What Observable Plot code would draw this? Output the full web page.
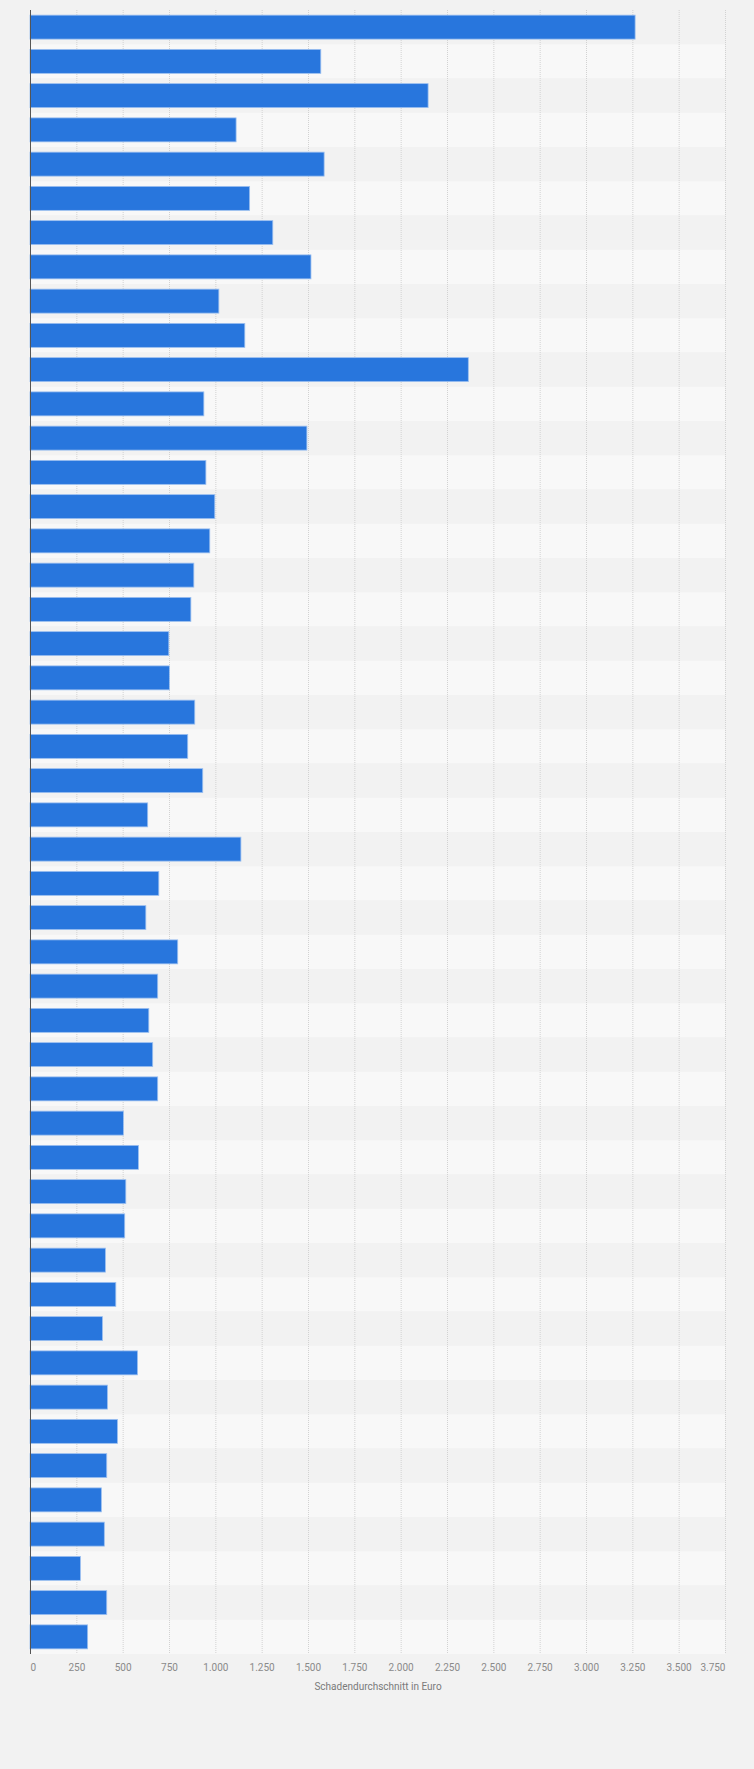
<!DOCTYPE html>
<html>
<head>
<meta charset="utf-8">
<script src="https://cdn.jsdelivr.net/npm/d3@7"></script>
<script src="https://cdn.jsdelivr.net/npm/@observablehq/plot@0.6"></script>
<style>
  html, body { margin: 0; padding: 0; background: #f2f2f2; }
  #chart svg { display: block; }
</style>
</head>
<body>
<div id="chart"></div>
<script>
const categories = ["1","2","3","4","5","6","7","8","9","10","11","12","13","14","15","16","17","18","19","20","21","22","23","24","25","26","27","28","29","30","31","32","33","34","35","36","37","38","39","40","41","42","43","44","45","46","47","48"];
const values = [3265,1569,2148,1112,1587,1185,1310,1516,1019,1159,2365,938,1494,949,997,970,884,868,749,752,889,851,932,635,1138,695,625,797,689,641,662,689,504,585,517,511,407,463,391,580,418,472,414,385,401,272,414,311];
const tickValues = [0,250,500,750,1000,1250,1500,1750,2000,2250,2500,2750,3000,3250,3500,3750];
const axisTitle = "Schadendurchschnitt in Euro";

const data = categories.map((c, i) => ({category: c, value: values[i], stripe: i % 2}));

const W = 754, H = 1769, mTop = 10, mBottom = 115, mLeft = 30, mRight = 29;
const step = (H - mTop - mBottom) / categories.length;
const barInset = step * 0.15;

const de = d3.formatLocale({decimal: ",", thousands: ".", grouping: [3], currency: ["", " €"]});
const fmt = de.format(",");

const font = "Roboto, 'Liberation Sans', sans-serif";
const tickStyle = {anchor: "bottom", tickSize: 0, tickPadding: 9, tickFormat: fmt, fontSize: 10, fill: "#8a8a8a", label: null};

const chart = Plot.plot({
  width: W,
  height: H,
  marginTop: mTop,
  marginBottom: mBottom,
  marginLeft: mLeft,
  marginRight: mRight,
  style: {background: "#f2f2f2", fontFamily: font},
  x: {domain: [0, 3750], axis: null, label: null},
  y: {domain: categories, padding: 0, round: false, axis: null, label: null},
  marks: [
    Plot.barX(data, {y: "category", x1: 0, x2: 3750, fill: d => d.stripe ? "#f8f8f8" : "#f2f2f2", inset: 0}),
    Plot.ruleX(tickValues.slice(1), {stroke: "#d2d2d2", strokeDasharray: "1,1", strokeWidth: 1}),
    Plot.barX(data, {y: "category", x: "value", fill: "#2876dd", stroke: "#9cc0f0", strokeWidth: 0.8, insetTop: barInset, insetBottom: barInset, insetLeft: 0, insetRight: 0}),
    Plot.ruleX([0], {stroke: "#555555", strokeWidth: 1}),
    Plot.axisX(tickValues.slice(1, -1), {...tickStyle, textAnchor: "middle"}),
    Plot.axisX([tickValues[0]], {...tickStyle, textAnchor: "start"}),
    Plot.axisX([tickValues[tickValues.length - 1]], {...tickStyle, textAnchor: "end"}),
    Plot.text([axisTitle], {frameAnchor: "bottom", dy: 32, text: d => d, fontSize: 10, fill: "#7a7a7a", lineAnchor: "middle"})
  ]
});
document.getElementById("chart").appendChild(chart);
</script>
</body>
</html>
